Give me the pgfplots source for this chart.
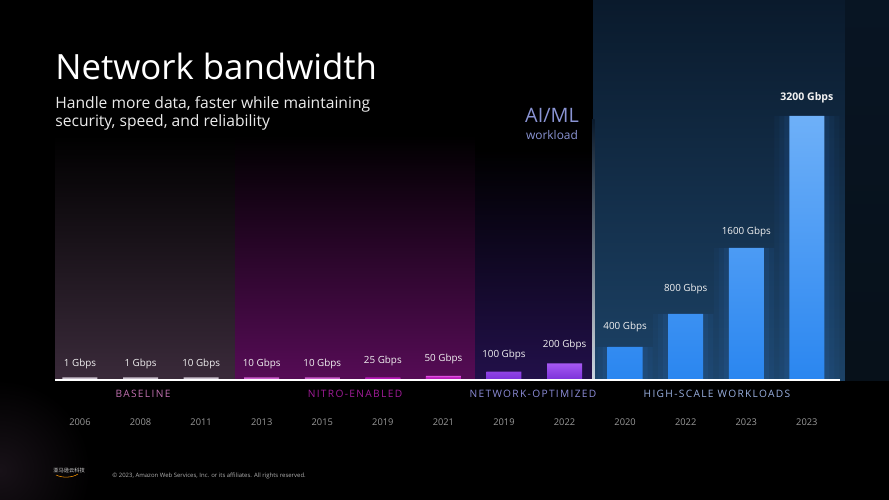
\documentclass[border=0pt]{standalone}
\usepackage{pgfplots}
\pgfplotsset{compat=1.18}
\usepackage{fontspec}
\setmainfont{Open Sans}
\newfontfamily\cjk{Noto Sans CJK SC}
\newfontfamily\spaced[LetterSpace=13]{Open Sans}
\definecolor{basepanel}{HTML}{3A2A3A}
\definecolor{nitropanel}{HTML}{560C56}
\definecolor{netpanel}{HTML}{22104A}
\definecolor{bluetop}{HTML}{0A1A2C}
\definecolor{bluebot}{HTML}{1C4266}
\definecolor{basebar}{HTML}{E6DDEA}
\definecolor{nitrotop}{HTML}{E050E0}
\definecolor{nitrobot}{HTML}{B81CB8}
\definecolor{nettop}{HTML}{A558F2}
\definecolor{netbot}{HTML}{7A30D8}
\definecolor{hstop}{HTML}{6EB0F8}
\definecolor{hsbot}{HTML}{2A86F0}
\definecolor{glow}{HTML}{3A90FF}
\definecolor{yeargray}{HTML}{9A9A9A}
\definecolor{gbase}{HTML}{C070B0}
\definecolor{gnitro}{HTML}{A21C9A}
\definecolor{gnet}{HTML}{8C8CD8}
\definecolor{ghs}{HTML}{9AB0E0}
\definecolor{aiml}{HTML}{8A94D4}
\definecolor{footgray}{HTML}{B0B0B0}
\begin{document}
\begin{tikzpicture}[x=0.02cm,y=-0.02cm,
  lbl/.style={text=white!95!black, font=\fontsize{5.6}{7}\selectfont, inner sep=0pt}]
\fill[black] (0,0) rectangle (889,500);
\begin{scope}
\clip (0,0) rectangle (889,500);
\shade[inner color=black!60!basepanel, outer color=black] (0,470) circle (90);
\end{scope}
% panels
\shade[top color=black, bottom color=basepanel] (55,135) rectangle (235,380);
\shade[top color=black, bottom color=nitropanel] (235,135) rectangle (475,380);
\shade[top color=black, bottom color=netpanel] (475,150) rectangle (593,380);
\shade[top color=bluetop, bottom color=bluebot] (593,0) rectangle (845,380);
\shade[top color=bluetop!80!black, bottom color=bluebot!25!black] (845,0) rectangle (889,380);
\shade[top color=bluetop, bottom color=white!80!bluebot] (592,120) rectangle (594.5,380);
% texts
\node[anchor=base west, inner sep=0pt, text=white, font=\fontsize{19.8}{24}\selectfont] at (55,80) {Network bandwidth};
\node[anchor=base west, inner sep=0pt, text=white!92!black, font=\fontsize{8.9}{11}\selectfont] at (55,109) {Handle more data, faster while maintaining};
\node[anchor=base west, inner sep=0pt, text=white!92!black, font=\fontsize{8.9}{11}\selectfont] at (55,127) {security, speed, and reliability};
\node[anchor=base, inner sep=0pt, text=aiml, font=\fontsize{11.3}{13}\selectfont] at (552,123) {AI/ML};
\node[anchor=base, inner sep=0pt, text=aiml, font=\fontsize{6.8}{8}\selectfont] at (552,139) {workload};
\begin{axis}[
  at={(0.994cm,-7.6cm)}, anchor=south west,
  scale only axis, width=15.752cm, height=7.2cm,
  xmin=-0.5, xmax=12.5, ymin=0, ymax=4363.6,
  axis line style={draw=none},
  ytick=\empty,
  xtick={0,...,12},
  xticklabels={2006,2008,2011,2013,2015,2019,2021,2019,2022,2020,2022,2023,2023},
  major tick length=0pt,
  xticklabel style={font=\fontsize{5.3}{6}\selectfont, text=yeargray, anchor=center, yshift=-0.84cm},
  clip=false,
  bar width=0.7cm,
]
% soft glow behind blue bars
\addplot[ybar, bar shift=0pt, bar width=1.3cm, draw=none, fill=glow, fill opacity=0.04] coordinates {(9,400)(10,800)(11,1600)(12,3200)};
\addplot[ybar, bar shift=0pt, bar width=1.1cm, draw=none, fill=glow, fill opacity=0.05] coordinates {(9,400)(10,800)(11,1600)(12,3200)};
\addplot[ybar, bar shift=0pt, bar width=0.9cm, draw=none, fill=glow, fill opacity=0.07] coordinates {(9,400)(10,800)(11,1600)(12,3200)};
% baseline
\addplot[ybar, bar shift=0pt, draw=none, fill=basebar, fill opacity=0.85] coordinates {(0,30)(1,30)(2,30)};
\addplot[ybar, bar shift=0pt, draw=none, fill=basebar] coordinates {(0,1)(1,1)(2,10)};
% nitro
\addplot[ybar, bar shift=0pt, draw=none, fill=nitrobot!70!white] coordinates {(3,30)(4,30)};
\addplot[ybar, bar shift=0pt, draw=none, top color=nitrotop, bottom color=nitrobot] coordinates {(3,10)(4,10)(5,25)(6,50)};
\addplot[ybar, bar shift=0pt, draw=none, fill=nitrobot] coordinates {(5,30)(6,30)};
% network optimized
\addplot[ybar, bar shift=0pt, draw=none, top color=nettop, bottom color=netbot] coordinates {(7,100)(8,200)};
% high scale
\addplot[ybar, bar shift=0pt, draw=none, top color=hstop, bottom color=hsbot] coordinates {(9,400)(10,800)(11,1600)(12,3200)};
% value labels
\node[lbl] at (axis cs:0,194) {1 Gbps};
\node[lbl] at (axis cs:1,194) {1 Gbps};
\node[lbl] at (axis cs:2,194) {10 Gbps};
\node[lbl] at (axis cs:3,194) {10 Gbps};
\node[lbl] at (axis cs:4,194) {10 Gbps};
\node[lbl] at (axis cs:5,230) {25 Gbps};
\node[lbl] at (axis cs:6,255) {50 Gbps};
\node[lbl] at (axis cs:7,303) {100 Gbps};
\node[lbl] at (axis cs:8,424) {200 Gbps};
\node[lbl] at (axis cs:9,646) {400 Gbps};
\node[lbl] at (axis cs:10,1103) {800 Gbps};
\node[lbl] at (axis cs:11,1798) {1600 Gbps};
\node[lbl, font=\fontsize{6}{7}\bfseries] at (axis cs:12,3415) {3200 Gbps};
\end{axis}
\draw[white, line width=1.1pt] (55,380) -- (840,380);
% group labels
\node[text=gbase, font=\spaced\fontsize{5.8}{7}\selectfont, inner sep=0pt] at (143,394) {BASELINE};
\node[text=gnitro, font=\spaced\fontsize{5.8}{7}\selectfont, inner sep=0pt] at (355,394) {NITRO-ENABLED};
\node[text=gnet, font=\spaced\fontsize{5.8}{7}\selectfont, inner sep=0pt] at (533,394) {NETWORK-OPTIMIZED};
\node[text=ghs, font=\spaced\fontsize{5.8}{7}\selectfont, inner sep=0pt] at (717,394) {HIGH-SCALE WORKLOADS};
% footer
\node[anchor=west, inner sep=0pt, text=white!85!black, font=\cjk\fontsize{3}{3}\selectfont] at (53,470) {亚马逊云科技};
\draw[orange!80!yellow, line width=0.3pt] (56,475) .. controls (62,478) and (72,478) .. (78,474);
\node[anchor=west, inner sep=0pt, text=footgray, font=\fontsize{3.4}{4}\selectfont] at (112,476) {\textcopyright{} 2023, Amazon Web Services, Inc. or its affiliates. All rights reserved.};
\end{tikzpicture}
\end{document}
